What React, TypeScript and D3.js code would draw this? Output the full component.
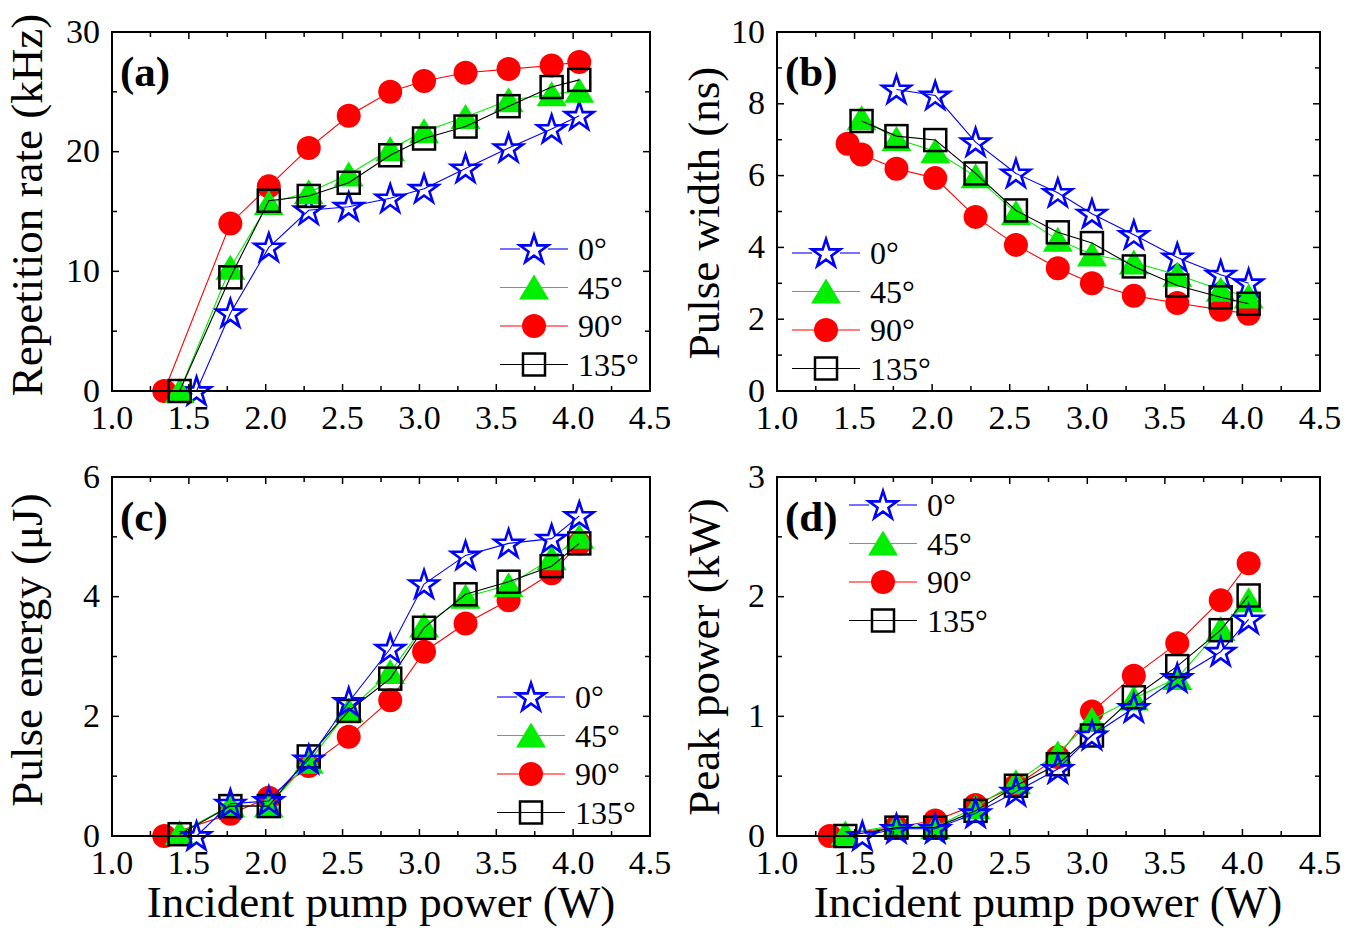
import React from "react";
import * as d3 from "d3";

const FONT = '"Liberation Serif", "Times New Roman", Times, "DejaVu Serif", serif';

// pump powers (W) shared by all curves after the first points
const pumpTail = [1.77, 2.02, 2.28, 2.54, 2.81, 3.03, 3.3, 3.58, 3.86, 4.04];

const angleLabels = ["0°", "45°", "90°", "135°"];

// (a) repetition rate, kHz
const repX0 = [1.55, ...pumpTail];
const repX45 = [1.44, ...pumpTail];
const repX90 = [1.34, ...pumpTail];
const repX135 = [1.44, ...pumpTail];
const rep0 = [0, 6.5, 12.0, 15.1, 15.4, 16.1, 16.9, 18.6, 20.3, 21.9, 23.0];
const rep45 = [0, 10.3, 15.7, 16.6, 18.1, 20.2, 21.7, 22.9, 24.3, 24.8, 25.1];
const rep90 = [0, 14.0, 17.1, 20.3, 23.0, 25.0, 25.9, 26.6, 26.9, 27.2, 27.5];
const rep135 = [0, 9.5, 15.9, 16.3, 17.4, 19.7, 21.1, 22.1, 23.8, 25.4, 26.0];

// (b) pulse width, ns
const pwX0 = [...pumpTail];
const pwX45 = [1.545, ...pumpTail];
const pwX90 = [1.455, 1.545, ...pumpTail];
const pwX135 = [1.545, ...pumpTail];
const pw0 = [8.4, 8.23, 6.93, 6.06, 5.52, 4.94, 4.35, 3.72, 3.24, 3.0];
const pw45 = [7.6, 7.02, 6.68, 5.98, 4.96, 4.21, 3.8, 3.58, 3.24, 2.82, 2.63];
const pw90 = [6.89, 6.59, 6.19, 5.93, 4.85, 4.07, 3.42, 3.0, 2.65, 2.45, 2.26, 2.15];
const pw135 = [7.52, 7.1, 6.99, 6.06, 5.03, 4.42, 4.12, 3.47, 2.94, 2.61, 2.43];

// (c) pulse energy, uJ
const en0 = [0, 0.54, 0.585, 1.28, 2.24, 3.13, 4.21, 4.69, 4.89, 4.97, 5.35];
const en45 = [0.05, 0.51, 0.51, 1.24, 2.1, 2.74, 3.52, 4.0, 4.19, 4.64, 5.0];
const en90 = [0, 0.37, 0.64, 1.17, 1.66, 2.27, 3.08, 3.55, 3.94, 4.39, 4.89];
const en135 = [0.03, 0.5, 0.5, 1.33, 2.09, 2.63, 3.48, 4.04, 4.25, 4.51, 4.89];

// (d) peak power, kW
const pk0 = [0, 0.06, 0.06, 0.19, 0.37, 0.56, 0.84, 1.07, 1.32, 1.54, 1.81];
const pk45 = [0.02, 0.09, 0.075, 0.24, 0.45, 0.69, 0.97, 1.15, 1.32, 1.73, 1.97];
const pk90 = [0, 0.075, 0.13, 0.26, 0.42, 0.66, 1.04, 1.34, 1.61, 1.97, 2.28];
const pk135 = [0, 0.07, 0.07, 0.21, 0.42, 0.6, 0.84, 1.16, 1.42, 1.72, 2.01];

const colors = ["#0000ff", "#00ee00", "#ff0000", "#000000"];
const shapes = ["star", "triangle", "circle", "square"];

const starD = d3.symbol(d3.symbolStar, (15 * 15) / 0.8908130915292852)();

function Marker({ shape, color, x, y }) {
  if (shape === "circle") return <circle cx={x} cy={y} r={12} fill={color} />;
  if (shape === "square")
    return <rect x={x - 11} y={y - 11} width={22} height={22} fill="none" stroke={color} strokeWidth={2.5} />;
  if (shape === "triangle")
    return <path d={`M${x},${y - 13}L${x + 15},${y + 12}L${x - 15},${y + 12}Z`} fill={color} />;
  return <path d={starD} transform={`translate(${x},${y + 1})`} fill="none" stroke={color} strokeWidth={2.6} strokeLinejoin="miter" />;
}

function Panel({ box, yMax, yMajor, yMinor, yTitle, yTitlePos, tag, legend, xs, ys, order }) {
  const { left, top, width, height } = box;
  const x = d3.scaleLinear().domain([1, 4.5]).range([left, left + width]);
  const y = d3.scaleLinear().domain([0, yMax]).range([top + height, top]);
  const bottom = top + height;
  const right = left + width;

  const xTicks = d3.range(1, 4.5001, 0.25);
  const yTicks = d3.range(0, yMax + 1e-6, yMinor);
  const isMajorX = (v) => Math.abs(v * 2 - Math.round(v * 2)) < 1e-6;
  const isMajorY = (v) => Math.abs(v / yMajor - Math.round(v / yMajor)) < 1e-6;

  const line = d3
    .line()
    .x((d) => x(d[0]))
    .y((d) => y(d[1]));

  return (
    <g>
      {/* curves */}
      {order.map((i) => {
        const pts = xs[i].map((v, k) => [v, ys[i][k]]);
        return (
          <g key={i}>
            <path d={line(pts)} fill="none" stroke={colors[i]} strokeWidth={1.1} />
            {pts.map((p, k) => (
              <Marker key={k} shape={shapes[i]} color={colors[i]} x={x(p[0])} y={y(p[1])} />
            ))}
          </g>
        );
      })}

      {/* frame and ticks */}
      <rect x={left} y={top} width={width} height={height} fill="none" stroke="#000" strokeWidth={2} />
      {xTicks.map((v) => {
        const len = isMajorX(v) ? 7 : 5;
        return (
          <g key={"x" + v}>
            <line x1={x(v)} x2={x(v)} y1={bottom} y2={bottom - len} stroke="#000" strokeWidth={1.5} />
            <line x1={x(v)} x2={x(v)} y1={top} y2={top + len} stroke="#000" strokeWidth={1.5} />
            {isMajorX(v) && (
              <text x={x(v)} y={bottom + 38} textAnchor="middle" fontSize={34}>
                {v.toFixed(1)}
              </text>
            )}
          </g>
        );
      })}
      {yTicks.map((v) => {
        const len = isMajorY(v) ? 7 : 5;
        return (
          <g key={"y" + v}>
            <line x1={left} x2={left + len} y1={y(v)} y2={y(v)} stroke="#000" strokeWidth={1.5} />
            <line x1={right} x2={right - len} y1={y(v)} y2={y(v)} stroke="#000" strokeWidth={1.5} />
            {isMajorY(v) && (
              <text x={left - 12} y={y(v) + 10.5} textAnchor="end" fontSize={34}>
                {v}
              </text>
            )}
          </g>
        );
      })}

      <text x={left + 8} y={top + 54} fontSize={43} fontWeight="bold">
        {tag}
      </text>
      <text transform={`translate(${yTitlePos[0]},${yTitlePos[1]}) rotate(-90)`} textAnchor="middle" fontSize={45}>
        {yTitle}
      </text>

      {/* legend */}
      {angleLabels.map((lab, i) => {
        const ly = legend.y + i * 38.5;
        const cx = legend.x + 34;
        return (
          <g key={lab}>
            {shapes[i] === "star" ? (
              <>
                <line x1={legend.x} x2={cx - 14} y1={ly} y2={ly} stroke={colors[i]} strokeWidth={1.1} />
                <line x1={cx + 14} x2={legend.x + 68} y1={ly} y2={ly} stroke={colors[i]} strokeWidth={1.1} />
              </>
            ) : (
              <line x1={legend.x} x2={legend.x + 68} y1={ly} y2={ly} stroke={colors[i]} strokeWidth={1.1} />
            )}
            <Marker shape={shapes[i]} color={colors[i]} x={cx} y={ly} />
            <text x={legend.x + 78} y={ly + 11} fontSize={32}>
              {lab}
            </text>
          </g>
        );
      })}
    </g>
  );
}

export default function App() {
  const topRow = 32;
  const botRow = 477;
  const h = 359;
  const repXs = [repX0, repX45, repX90, repX135];
  const pwXs = [pwX0, pwX45, pwX90, pwX135];
  return (
    <svg
      width={1352}
      height={930}
      style={{ position: "absolute", left: 0, top: 0, background: "#fff", fontFamily: FONT }}
    >
      <Panel
        box={{ left: 112, top: topRow, width: 538, height: h }}
        yMax={30}
        yMajor={10}
        yMinor={5}
        yTitle="Repetition rate (kHz)"
        yTitlePos={[42, 205]}
        tag="(a)"
        legend={{ x: 500, y: 249 }}
        xs={repXs}
        ys={[rep0, rep45, rep90, rep135]}
        order={[0, 2, 1, 3]}
      />
      <Panel
        box={{ left: 777, top: topRow, width: 543, height: h }}
        yMax={10}
        yMajor={2}
        yMinor={1}
        yTitle="Pulse width (ns)"
        yTitlePos={[719, 213]}
        tag="(b)"
        legend={{ x: 792, y: 253 }}
        xs={pwXs}
        ys={[pw0, pw45, pw90, pw135]}
        order={[0, 2, 1, 3]}
      />
      <Panel
        box={{ left: 112, top: botRow, width: 538, height: h }}
        yMax={6}
        yMajor={2}
        yMinor={1}
        yTitle="Pulse energy (μJ)"
        yTitlePos={[42, 650]}
        tag="(c)"
        legend={{ x: 497, y: 697 }}
        xs={repXs}
        ys={[en0, en45, en90, en135]}
        order={[2, 1, 3, 0]}
      />
      <Panel
        box={{ left: 777, top: botRow, width: 543, height: h }}
        yMax={3}
        yMajor={1}
        yMinor={0.5}
        yTitle="Peak power (kW)"
        yTitlePos={[719, 657]}
        tag="(d)"
        legend={{ x: 849, y: 505 }}
        xs={repXs}
        ys={[pk0, pk45, pk90, pk135]}
        order={[2, 1, 3, 0]}
      />
      <text x={381} y={917} textAnchor="middle" fontSize={45}>
        Incident pump power (W)
      </text>
      <text x={1048} y={917} textAnchor="middle" fontSize={45}>
        Incident pump power (W)
      </text>
    </svg>
  );
}
